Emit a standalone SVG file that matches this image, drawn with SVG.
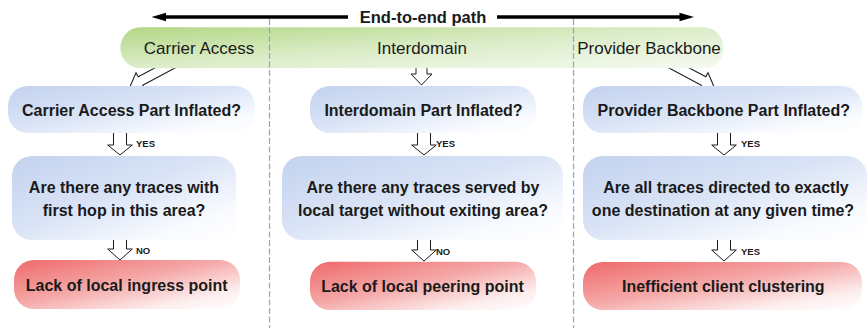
<svg xmlns="http://www.w3.org/2000/svg" width="868" height="328" viewBox="0 0 868 328">
<defs>
<linearGradient id="gBlue" x1="0" y1="0" x2="1" y2="1">
<stop offset="0" stop-color="#c3d2ef"/>
<stop offset="0.45" stop-color="#d9e3f6"/>
<stop offset="0.8" stop-color="#f8fafe"/>
<stop offset="1" stop-color="#ffffff"/>
</linearGradient>
<linearGradient id="gRed" x1="0" y1="0" x2="1" y2="1">
<stop offset="0" stop-color="#ee6a6a"/>
<stop offset="0.45" stop-color="#f5a7a7"/>
<stop offset="0.8" stop-color="#fdeeee"/>
<stop offset="1" stop-color="#ffffff"/>
</linearGradient>
<linearGradient id="gGreen" x1="0" y1="0" x2="1" y2="1">
<stop offset="0" stop-color="#b3d785"/>
<stop offset="0.5" stop-color="#dcedc9"/>
<stop offset="1" stop-color="#f6faf1"/>
</linearGradient>
<style>
.box{stroke:none}
.blue{fill:url(#gBlue)}
.red{fill:url(#gRed)}
.t{font-family:"Liberation Sans",Arial,sans-serif;font-weight:bold;font-size:16px;fill:#1a1a1a;text-anchor:middle}
.seg{font-family:"Liberation Sans",Arial,sans-serif;font-size:17px;fill:#1a1a1a;text-anchor:middle}
.lbl{font-family:"Liberation Sans",Arial,sans-serif;font-weight:bold;font-size:9.5px;fill:#1a1a1a}
.arr{fill:#ffffff;stroke:#1a1a1a;stroke-width:1;stroke-linejoin:miter}
.dash{stroke:#7eaad6;stroke-width:1.2;stroke-dasharray:6 2.5;fill:none}
</style>
</defs>

<g id="connectors">
<polygon class="arr" transform="translate(130.1,86.5) rotate(62)" points="0,0 9.4,-11.7 4.75,-11.7 4.75,-60 -4.75,-60 -4.75,-11.7 -9.4,-11.7"/>
<polygon class="arr" transform="translate(421.5,85)" points="0,0 10.5,-11 5.5,-11 5.5,-30 -5.5,-30 -5.5,-11 -10.5,-11"/>
<polygon class="arr" transform="translate(713.9,86.5) rotate(-62)" points="0,0 9.4,-11.7 4.75,-11.7 4.75,-60 -4.75,-60 -4.75,-11.7 -9.4,-11.7"/>
<polygon class="arr" transform="translate(120,155)" points="0,0 12.3,-10 6.5,-10 6.5,-30 -6.5,-30 -6.5,-10 -12.3,-10"/>
<polygon class="arr" transform="translate(120,260)" points="0,0 12.3,-11 6.5,-11 6.5,-30 -6.5,-30 -6.5,-11 -12.3,-11"/>
<polygon class="arr" transform="translate(424,155)" points="0,0 12.3,-10 6.5,-10 6.5,-30 -6.5,-30 -6.5,-10 -12.3,-10"/>
<polygon class="arr" transform="translate(424,261)" points="0,0 12.3,-11 6.5,-11 6.5,-30 -6.5,-30 -6.5,-11 -12.3,-11"/>
<polygon class="arr" transform="translate(724,155)" points="0,0 12.3,-10 6.5,-10 6.5,-30 -6.5,-30 -6.5,-10 -12.3,-10"/>
<polygon class="arr" transform="translate(724,261)" points="0,0 12.3,-11 6.5,-11 6.5,-30 -6.5,-30 -6.5,-11 -12.3,-11"/>
<text class="lbl" x="136" y="147">YES</text>
<text class="lbl" x="136" y="253.5">NO</text>
<text class="lbl" x="436" y="147">YES</text>
<text class="lbl" x="436" y="254.5">NO</text>
<text class="lbl" x="741" y="147">YES</text>
<text class="lbl" x="741" y="254.5">YES</text>
</g>

<g id="segments">
<rect x="120.5" y="27.3" width="603" height="41" rx="20" ry="20" fill="url(#gGreen)"/>
<text class="seg" x="199" y="54">Carrier Access</text>
<text class="seg" x="422" y="54">Interdomain</text>
<text class="seg" x="649" y="54">Provider Backbone</text>
</g>

<g id="dividers">
<line class="dash" x1="269.5" y1="19" x2="269.5" y2="328"/>
<line class="dash" x1="573.5" y1="19" x2="573.5" y2="328"/>
</g>

<g id="title">
<line x1="160" y1="17" x2="348" y2="17" stroke="#000" stroke-width="3.5"/>
<polygon points="151.5,17 166,12.8 166,21.2" fill="#000"/>
<line x1="497" y1="17" x2="685" y2="17" stroke="#000" stroke-width="3.5"/>
<polygon points="694,17 679.5,12.8 679.5,21.2" fill="#000"/>
<text class="t" x="423" y="22.5" style="font-size:16.5px">End-to-end path</text>
</g>

<g id="q1-carrier">
<rect class="box blue" x="8" y="86" width="247" height="47" rx="20"/>
<text class="t" x="131.5" y="116">Carrier Access Part Inflated?</text>
</g>
<g id="q2-carrier">
<rect class="box blue" x="12" y="156" width="224" height="84" rx="20"/>
<text class="t" x="124" y="193.3">Are there any traces with</text>
<text class="t" x="124" y="216">first hop in this area?</text>
</g>
<g id="r-carrier">
<rect class="box red" x="14" y="260" width="226" height="49" rx="20"/>
<text class="t" x="126.7" y="290.5">Lack of local ingress point</text>
</g>

<g id="q1-interdomain">
<rect class="box blue" x="310" y="86" width="226" height="47" rx="20"/>
<text class="t" x="423.5" y="116">Interdomain Part Inflated?</text>
</g>
<g id="q2-interdomain">
<rect class="box blue" x="282" y="156" width="281" height="84" rx="20"/>
<text class="t" x="423" y="193.3">Are there any traces served by</text>
<text class="t" x="423" y="216">local target without exiting area?</text>
</g>
<g id="r-interdomain">
<rect class="box red" x="310" y="261.7" width="226" height="48.3" rx="20"/>
<text class="t" x="422.5" y="291.5">Lack of local peering point</text>
</g>

<g id="q1-backbone">
<rect class="box blue" x="583" y="86" width="279" height="47" rx="20"/>
<text class="t" x="723.8" y="116">Provider Backbone Part Inflated?</text>
</g>
<g id="q2-backbone">
<rect class="box blue" x="583" y="156" width="284" height="84" rx="20"/>
<text class="t" x="726" y="193.3">Are all traces directed to exactly</text>
<text class="t" x="723" y="216">one destination at any given time?</text>
</g>
<g id="r-backbone">
<rect class="box red" x="583" y="262" width="279" height="48" rx="20"/>
<text class="t" x="723.3" y="291.5">Inefficient client clustering</text>
</g>
</svg>
